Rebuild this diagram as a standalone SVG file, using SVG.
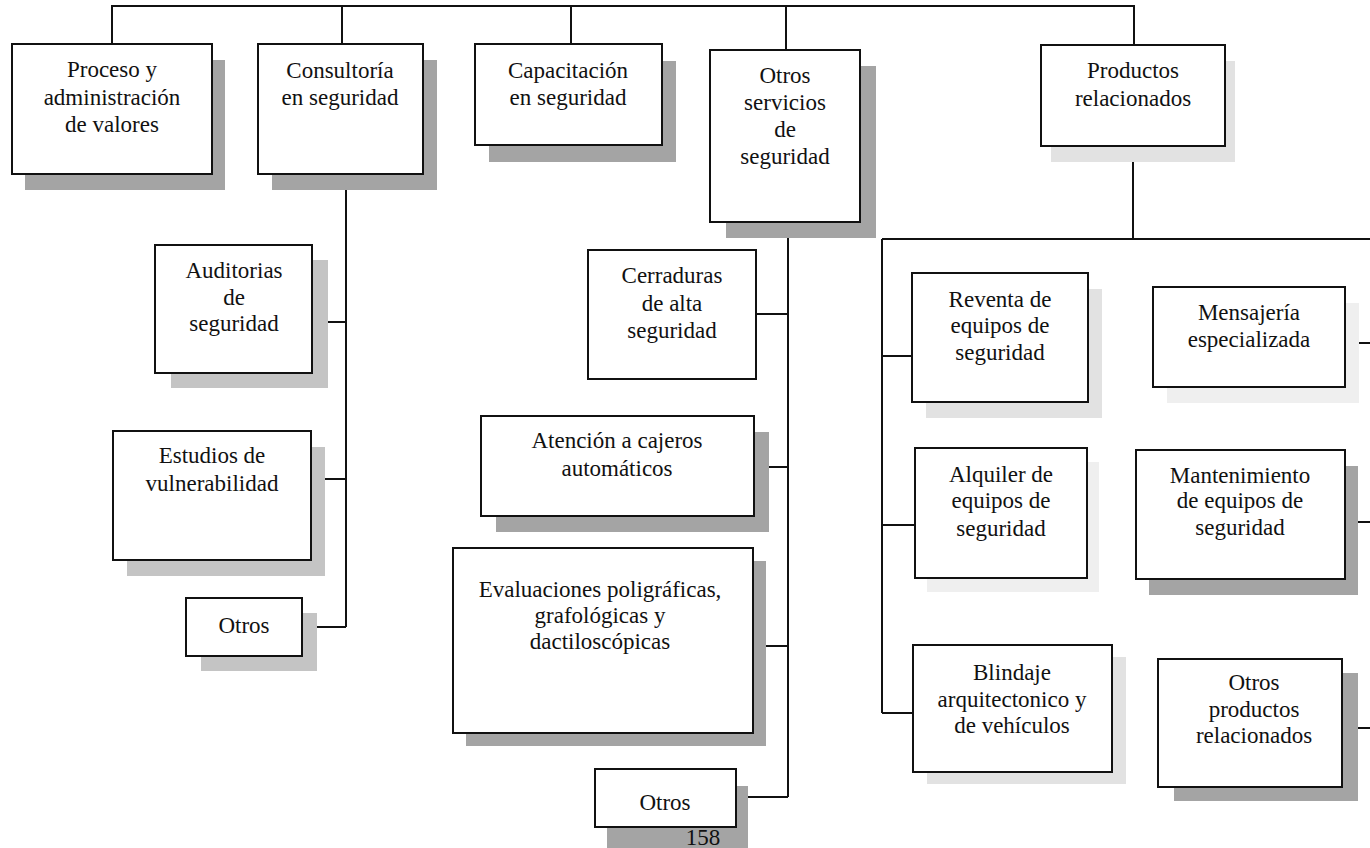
<svg xmlns="http://www.w3.org/2000/svg" width="1370" height="848" viewBox="0 0 1370 848">
<style>
.box{fill:#fff;stroke:#111;stroke-width:2}
.sd{fill:#a4a4a4}
.sm{fill:#c4c4c4}
.sl{fill:#e2e2e2}
.sx{fill:#efefef}
.ln{fill:none;stroke:#111;stroke-width:2}
text{font-family:"Liberation Serif","Times New Roman",serif;font-size:23px;fill:#111;text-anchor:middle}
</style>
<rect width="1370" height="848" fill="#fff"/>
<g id="connectors">
<path class="ln" d="M112,44 V6 H1134 V45 M342,6 V44 M571,6 V44 M786,6 V50"/>
<path class="ln" d="M346,174 V627 M312,322 H346 M311,479 H346 M302,627 H346"/>
<path class="ln" d="M788,222 V797 M756,314 H788 M754,467 H788 M753,646 H788 M736,797 H788"/>
<path class="ln" d="M1133,146 V239 M882,239 H1370 M882,239 V713 M882,356 H912 M882,525 H915 M882,713 H913"/>
<path class="ln" d="M1345,343 H1370 M1345,522 H1370 M1342,728 H1370"/>
</g>
<g id="n-proceso"><rect class="sd" x="25" y="60" width="200" height="130"/><rect class="box" x="12" y="44" width="200" height="130"/><text x="112" y="77">Proceso y</text><text x="112" y="105">administración</text><text x="112" y="132">de valores</text></g>
<g id="n-consultoria"><rect class="sd" x="272" y="60" width="165" height="130"/><rect class="box" x="258" y="44" width="165" height="130"/><text x="340" y="78">Consultoría</text><text x="340" y="105">en seguridad</text></g>
<g id="n-capacitacion"><rect class="sd" x="489" y="61" width="187" height="101"/><rect class="box" x="475" y="44" width="187" height="101"/><text x="568" y="78">Capacitación</text><text x="568" y="105">en seguridad</text></g>
<g id="n-otros-servicios"><rect class="sd" x="726" y="66" width="150" height="172"/><rect class="box" x="710" y="50" width="150" height="172"/><text x="785" y="83">Otros</text><text x="785" y="110">servicios</text><text x="785" y="137">de</text><text x="785" y="164">seguridad</text></g>
<g id="n-productos"><rect class="sl" x="1051" y="61" width="184" height="101"/><rect class="box" x="1041" y="45" width="184" height="101"/><text x="1133" y="78">Productos</text><text x="1133" y="106">relacionados</text></g>
<g id="n-auditorias"><rect class="sm" x="171" y="260" width="157" height="128"/><rect class="box" x="155" y="245" width="157" height="128"/><text x="234" y="278">Auditorias</text><text x="234" y="305">de</text><text x="234" y="331">seguridad</text></g>
<g id="n-estudios"><rect class="sm" x="127" y="447" width="198" height="129"/><rect class="box" x="113" y="431" width="198" height="129"/><text x="212" y="463">Estudios de</text><text x="212" y="491">vulnerabilidad</text></g>
<g id="n-otros-1"><rect class="sm" x="201" y="613" width="116" height="58"/><rect class="box" x="186" y="598" width="116" height="58"/><text x="244" y="633">Otros</text></g>
<g id="n-cerraduras"><rect class="box" x="588" y="250" width="168" height="129"/><text x="672" y="283">Cerraduras</text><text x="672" y="311">de alta</text><text x="672" y="338">seguridad</text></g>
<g id="n-atencion"><rect class="sd" x="496" y="432" width="273" height="100"/><rect class="box" x="481" y="416" width="273" height="100"/><text x="617" y="448">Atención a cajeros</text><text x="617" y="476">automáticos</text></g>
<g id="n-evaluaciones"><rect class="sd" x="466" y="561" width="300" height="185"/><rect class="box" x="453" y="548" width="300" height="185"/><text x="600" y="597">Evaluaciones poligráficas,</text><text x="600" y="623">grafológicas y</text><text x="600" y="649">dactiloscópicas</text></g>
<g id="n-otros-2"><rect class="sd" x="607" y="786" width="141" height="62"/><rect class="box" x="595" y="769" width="141" height="58"/><text x="665" y="810">Otros</text></g>
<g id="n-reventa"><rect class="sl" x="926" y="289" width="176" height="129"/><rect class="box" x="912" y="273" width="176" height="129"/><text x="1000" y="307">Reventa de</text><text x="1000" y="333">equipos de</text><text x="1000" y="360">seguridad</text></g>
<g id="n-alquiler"><rect class="sx" x="927" y="462" width="172" height="130"/><rect class="box" x="915" y="448" width="172" height="130"/><text x="1001" y="482">Alquiler de</text><text x="1001" y="508">equipos de</text><text x="1001" y="536">seguridad</text></g>
<g id="n-mensajeria"><rect class="sx" x="1167" y="303" width="192" height="100"/><rect class="box" x="1153" y="287" width="192" height="100"/><text x="1249" y="320">Mensajería</text><text x="1249" y="347">especializada</text></g>
<g id="n-mantenimiento"><rect class="sd" x="1149" y="466" width="209" height="129"/><rect class="box" x="1136" y="450" width="209" height="129"/><text x="1240" y="483">Mantenimiento</text><text x="1240" y="508">de equipos de</text><text x="1240" y="535">seguridad</text></g>
<g id="n-blindaje"><rect class="sl" x="927" y="657" width="199" height="127"/><rect class="box" x="913" y="645" width="199" height="127"/><text x="1012" y="680">Blindaje</text><text x="1012" y="707">arquitectonico y</text><text x="1012" y="733">de vehículos</text></g>
<g id="n-otros-productos"><rect class="sd" x="1174" y="673" width="184" height="128"/><rect class="box" x="1158" y="659" width="184" height="128"/><text x="1254" y="690">Otros</text><text x="1254" y="717">productos</text><text x="1254" y="743">relacionados</text></g>
<text x="703" y="845" font-size="19">158</text>
</svg>
